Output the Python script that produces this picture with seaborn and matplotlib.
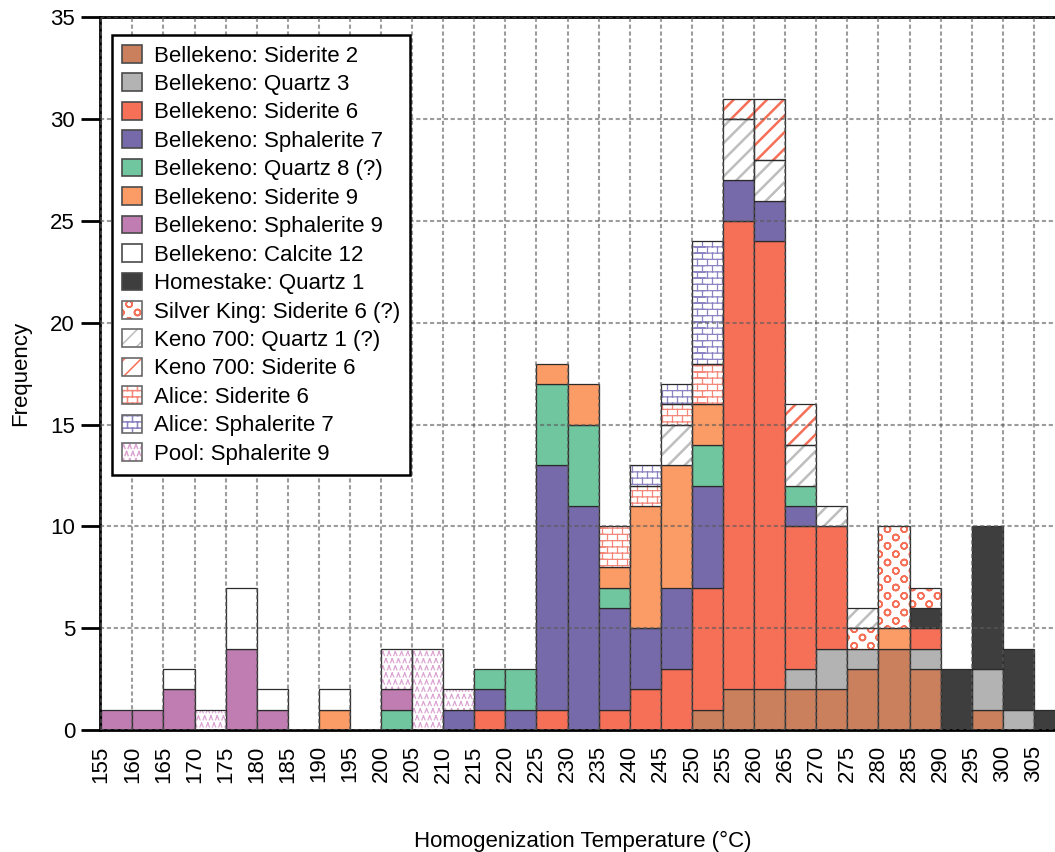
import warnings
import numpy as np
import pandas as pd
import matplotlib
matplotlib.use("Agg")
import matplotlib.pyplot as plt
from matplotlib import hatch as mhatch
from matplotlib.path import Path
from matplotlib.patches import Patch, Rectangle
from matplotlib.legend_handler import HandlerTuple
import seaborn as sns

warnings.filterwarnings("ignore")

# ---------------------------------------------------------------- data
bin_starts = list(range(155, 310, 5))          # left edge of each 5 °C bin
bin_width = 5

series_names = [
    "Bellekeno: Siderite 2",
    "Bellekeno: Quartz 3",
    "Bellekeno: Siderite 6",
    "Bellekeno: Sphalerite 7",
    "Bellekeno: Quartz 8 (?)",
    "Bellekeno: Siderite 9",
    "Bellekeno: Sphalerite 9",
    "Bellekeno: Calcite 12",
    "Homestake: Quartz 1",
    "Silver King: Siderite 6 (?)",
    "Keno 700: Quartz 1 (?)",
    "Keno 700: Siderite 6",
    "Alice: Siderite 6",
    "Alice: Sphalerite 7",
    "Pool: Sphalerite 9",
]

#                155 160 165 170 175 180 185 190 195 200 205 210 215 220 225 230 235 240 245 250 255 260 265 270 275 280 285 290 295 300 305
bel_siderite_2 = [0, 0, 0, 0, 0, 0, 0, 0, 0, 0, 0, 0, 0, 0, 0, 0, 0, 0, 0, 1, 2, 2, 2, 2, 3, 4, 3, 0, 1, 0, 0]
bel_quartz_3 = [0, 0, 0, 0, 0, 0, 0, 0, 0, 0, 0, 0, 0, 0, 0, 0, 0, 0, 0, 0, 0, 0, 1, 2, 1, 0, 1, 0, 2, 1, 0]
bel_siderite_6 = [0, 0, 0, 0, 0, 0, 0, 0, 0, 0, 0, 0, 1, 0, 1, 0, 1, 2, 3, 6, 23, 22, 7, 6, 0, 0, 1, 0, 0, 0, 0]
bel_sphalerite_7 = [0, 0, 0, 0, 0, 0, 0, 0, 0, 0, 0, 1, 1, 1, 12, 11, 5, 3, 4, 5, 2, 2, 1, 0, 0, 0, 0, 0, 0, 0, 0]
bel_quartz_8 = [0, 0, 0, 0, 0, 0, 0, 0, 0, 1, 0, 0, 1, 2, 4, 4, 1, 0, 0, 2, 0, 0, 1, 0, 0, 0, 0, 0, 0, 0, 0]
bel_siderite_9 = [0, 0, 0, 0, 0, 0, 0, 1, 0, 0, 0, 0, 0, 0, 1, 2, 1, 6, 6, 2, 0, 0, 0, 0, 0, 1, 0, 0, 0, 0, 0]
bel_sphalerite_9 = [1, 1, 2, 0, 4, 1, 0, 0, 0, 1, 0, 0, 0, 0, 0, 0, 0, 0, 0, 0, 0, 0, 0, 0, 0, 0, 0, 0, 0, 0, 0]
bel_calcite_12 = [0, 0, 1, 0, 3, 1, 0, 1, 0, 0, 0, 0, 0, 0, 0, 0, 0, 0, 0, 0, 0, 0, 0, 0, 0, 0, 0, 0, 0, 0, 0]
homestake_quartz_1 = [0, 0, 0, 0, 0, 0, 0, 0, 0, 0, 0, 0, 0, 0, 0, 0, 0, 0, 0, 0, 0, 0, 0, 0, 0, 0, 1, 3, 7, 3, 1]
silver_king_siderite_6 = [0, 0, 0, 0, 0, 0, 0, 0, 0, 0, 0, 0, 0, 0, 0, 0, 0, 0, 0, 0, 0, 0, 0, 0, 1, 5, 1, 0, 0, 0, 0]
keno_quartz_1 = [0, 0, 0, 0, 0, 0, 0, 0, 0, 0, 0, 0, 0, 0, 0, 0, 0, 0, 2, 0, 3, 2, 2, 1, 1, 0, 0, 0, 0, 0, 0]
keno_siderite_6 = [0, 0, 0, 0, 0, 0, 0, 0, 0, 0, 0, 0, 0, 0, 0, 0, 0, 0, 0, 0, 1, 3, 2, 0, 0, 0, 0, 0, 0, 0, 0]
alice_siderite_6 = [0, 0, 0, 0, 0, 0, 0, 0, 0, 0, 0, 0, 0, 0, 0, 0, 2, 1, 1, 2, 0, 0, 0, 0, 0, 0, 0, 0, 0, 0, 0]
alice_sphalerite_7 = [0, 0, 0, 0, 0, 0, 0, 0, 0, 0, 0, 0, 0, 0, 0, 0, 0, 1, 1, 6, 0, 0, 0, 0, 0, 0, 0, 0, 0, 0, 0]
pool_sphalerite_9 = [0, 0, 0, 1, 0, 0, 0, 0, 0, 2, 4, 1, 0, 0, 0, 0, 0, 0, 0, 0, 0, 0, 0, 0, 0, 0, 0, 0, 0, 0, 0]

series_counts = [
    bel_siderite_2, bel_quartz_3, bel_siderite_6, bel_sphalerite_7,
    bel_quartz_8, bel_siderite_9, bel_sphalerite_9, bel_calcite_12,
    homestake_quartz_1, silver_king_siderite_6, keno_quartz_1,
    keno_siderite_6, alice_siderite_6, alice_sphalerite_7, pool_sphalerite_9,
]

# ---------------------------------------------------------------- styles
solid_colors = {
    "Bellekeno: Siderite 2": "#CA805D",
    "Bellekeno: Quartz 3": "#B3B3B3",
    "Bellekeno: Siderite 6": "#F67058",
    "Bellekeno: Sphalerite 7": "#776AAA",
    "Bellekeno: Quartz 8 (?)": "#70C69E",
    "Bellekeno: Siderite 9": "#FB9B65",
    "Bellekeno: Sphalerite 9": "#C07DB2",
    "Bellekeno: Calcite 12": "#FFFFFF",
    "Homestake: Quartz 1": "#3E3E3E",
}
# pattern, pattern colour, pattern line width
hatched_styles = {
    "Silver King: Siderite 6 (?)": ("c", "#F67058", 1.1),
    "Keno 700: Quartz 1 (?)": ("//", "#BDBDBD", 1.8),
    "Keno 700: Siderite 6": ("//", "#F67058", 1.8),
    "Alice: Siderite 6": ("b", "#F4877A", 0.9),
    "Alice: Sphalerite 7": ("b", "#8C84C2", 0.9),
    "Pool: Sphalerite 9": ("v", "#DCA6D3", 0.9),
}
edge_dark = "#2b2b2b"


# ------------------------------------------------ extra hatch patterns
def _wrapped(segs):
    """Repeat segments across tile borders so the pattern tiles seamlessly."""
    out = []
    for (x0, y0), (x1, y1) in segs:
        for dx in (-1, 0, 1):
            for dy in (-1, 0, 1):
                lo_x, hi_x = min(x0, x1) + dx, max(x0, x1) + dx
                lo_y, hi_y = min(y0, y1) + dy, max(y0, y1) + dy
                if hi_x >= 0 and lo_x <= 1 and hi_y >= 0 and lo_y <= 1:
                    out.append(((x0 + dx, y0 + dy), (x1 + dx, y1 + dy)))
    verts = np.array(out, float).reshape(-1, 2)
    codes = np.tile([Path.MOVETO, Path.LINETO], len(out)).astype(Path.code_type)
    return verts, codes


def _bricks(rows=16, cols=10):
    segs = []
    for i in range(rows):
        y = (i + 0.5) / rows
        y_top = (i + 1.5) / rows
        segs.append(((-0.05, y), (1.05, y)))
        for j in range(cols):
            x = (j + 0.25 + 0.5 * (i % 2)) / cols
            segs.append(((x, y), (x, y_top)))
    return _wrapped(segs)


def _chevrons(rows=14, cols=16):
    segs = []
    w, h = 0.26 / cols, 0.28 / rows
    for i in range(rows):
        y = (i + 0.5) / rows
        for j in range(cols):
            x = (j + 0.25 + 0.5 * (i % 2)) / cols
            segs.append(((x - w, y - h), (x, y + h)))
            segs.append(((x, y + h), (x + w, y - h)))
    return _wrapped(segs)


def _rings(rows=12, cols=6, radius=0.03, sides=18):
    segs = []
    ang = np.linspace(0, 2 * np.pi, sides + 1)
    for i in range(rows):
        y = (i + 0.5) / rows
        for j in range(cols):
            x = (j + 0.25 + 0.5 * (i % 2)) / cols
            px = x + radius * np.cos(ang)
            py = y + radius * np.sin(ang)
            for k in range(sides):
                segs.append(((px[k], py[k]), (px[k + 1], py[k + 1])))
    return _wrapped(segs)


class TileHatch(mhatch.HatchPatternBase):
    tiles = {"b": _bricks(), "v": _chevrons(), "c": _rings()}

    def __init__(self, hatch, density):
        self.parts = [self.tiles[ch] for ch in hatch if ch in self.tiles]
        self.num_vertices = sum(len(v) for v, _ in self.parts)

    def set_vertices_and_codes(self, vertices, codes):
        if self.parts:
            vertices[:] = np.concatenate([v for v, _ in self.parts])
            codes[:] = np.concatenate([c for _, c in self.parts])


mhatch._hatch_types.append(TileHatch)

# ---------------------------------------------------------------- theme
sns.set_theme(style="white")
plt.rcParams["font.family"] = ["Liberation Sans", "DejaVu Sans"]
plt.rcParams["hatch.linewidth"] = 1.1
plt.rcParams["axes.edgecolor"] = "black"
plt.rcParams["text.color"] = "black"
plt.rcParams["xtick.color"] = "black"
plt.rcParams["ytick.color"] = "black"
plt.rcParams["axes.labelcolor"] = "black"

# ---------------------------------------------------------------- observations
# one row per measured inclusion, placed at the centre of its bin
obs_temp, obs_source = [], []
for name, counts in zip(series_names, series_counts):
    for start, n in zip(bin_starts, counts):
        obs_temp += [start + bin_width / 2] * n
        obs_source += [name] * n
df = pd.DataFrame({"temp": obs_temp, "source": obs_source})

key_palette = dict(zip(series_names, sns.color_palette("husl", len(series_names))))

fig = plt.figure(figsize=(10.55, 8.52), dpi=100)
ax = fig.add_axes([100 / 1055, 122 / 852, 965 / 1055, 712.5 / 852])

# hue order reversed: seaborn stacks the last level at the bottom
sns.histplot(data=df, x="temp", hue="source",
             hue_order=series_names[::-1], multiple="stack",
             binwidth=bin_width, binrange=(bin_starts[0], bin_starts[-1] + bin_width),
             palette=key_palette, alpha=1, edgecolor=edge_dark, linewidth=0.9,
             legend=False, ax=ax)


def _name_of(rgb):
    for nm, col in key_palette.items():
        if np.allclose(rgb[:3], col, atol=1e-3):
            return nm
    return None


for cont in list(ax.containers):
    name = _name_of(cont.patches[0].get_facecolor())
    for p in cont.patches:
        if p.get_height() <= 0:
            p.set_visible(False)
            continue
        if name in solid_colors:
            p.set_facecolor(solid_colors[name])
            p.set_edgecolor(edge_dark)
            p.set_linewidth(0.9)
        else:
            pat, pcol, plw = hatched_styles[name]
            p.set_facecolor("white")
            p.set_hatch(pat)
            p.set_edgecolor(pcol)
            p.set_linewidth(0)
            if hasattr(p, "set_hatch_linewidth"):
                p.set_hatch_linewidth(plw)
            ax.add_patch(Rectangle(p.get_xy(), p.get_width(), p.get_height(),
                                   fill=False, edgecolor=edge_dark,
                                   linewidth=0.9, zorder=p.get_zorder() + 0.01))

# ---------------------------------------------------------------- axes
ax.set_xlim(154.8, 310)
ax.set_ylim(0, 35)
ax.set_xticks(bin_starts)
ax.set_xticklabels([str(v) for v in bin_starts], rotation=90)
ax.set_yticks(range(0, 36, 5))
ax.tick_params(axis="x", length=0, pad=11, labelsize=16)
ax.tick_params(axis="y", length=14, width=2, direction="out", pad=4,
               labelsize=16, left=True)
for sp in ax.spines.values():
    sp.set_visible(True)
    sp.set_linewidth(2)
    sp.set_color("black")

ax.set_axisbelow(False)
ax.grid(True, color="#5a5a5a", alpha=0.6, linestyle=(0, (2, 1.3)),
        linewidth=1.5)

ax.set_xlabel("Homogenization Temperature (°C)", fontsize=16, labelpad=35)
ax.set_ylabel("Frequency", fontsize=16, labelpad=14)

# ---------------------------------------------------------------- legend
handles = []
for name in series_names:
    if name in solid_colors:
        handles.append(Patch(facecolor=solid_colors[name], edgecolor="#4a4a4a",
                             linewidth=1.2))
    else:
        pat, pcol, plw = hatched_styles[name]
        hp = Patch(facecolor="white", edgecolor=pcol, hatch=pat, linewidth=0)
        if hasattr(hp, "set_hatch_linewidth"):
            hp.set_hatch_linewidth(plw)
        handles.append((hp, Patch(facecolor="none", edgecolor="#6a6a6a",
                                  linewidth=1.2)))

leg = ax.legend(handles, series_names, loc="upper left",
                bbox_to_anchor=(112 / 1055, 1 - 35 / 852),
                bbox_transform=fig.transFigure, borderaxespad=0,
                frameon=True, fancybox=False, edgecolor="black",
                framealpha=1, fontsize=16, handlelength=0.9,
                handleheight=0.85, handletextpad=0.55, labelspacing=0.31,
                borderpad=0.45,
                handler_map={tuple: HandlerTuple(ndivide=1, pad=0)})
leg.get_frame().set_linewidth(1.8)
leg.set_zorder(10)

fig.savefig("out.png", dpi=100)
